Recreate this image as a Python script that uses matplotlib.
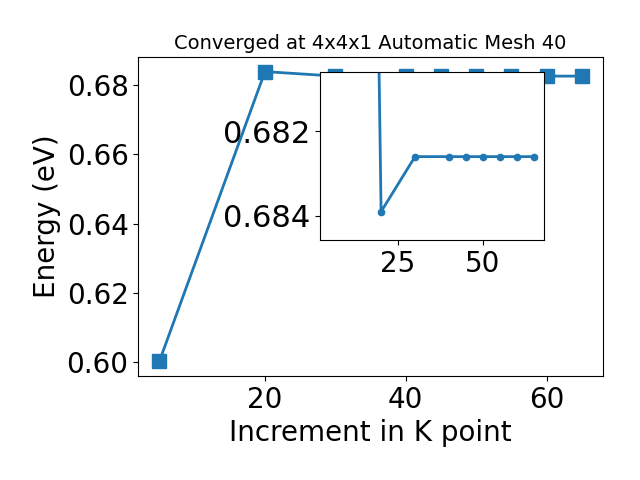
import matplotlib
matplotlib.use("Agg")
import matplotlib.pyplot as plt

kpoints = [5, 20, 30, 40, 45, 50, 55, 60, 65]
energy = [0.6002, 0.6839, 0.6826, 0.6826, 0.6826, 0.6826, 0.6826, 0.6826, 0.6826]

fig = plt.figure(figsize=(6.4, 4.8), dpi=100)
ax = fig.add_axes([0.216, 0.217, 0.726, 0.664])
ax.plot(kpoints, energy, marker='s', markersize=10, linewidth=2, color='#1f77b4')
ax.set_title('Converged at 4x4x1 Automatic Mesh 40', fontsize=14)
ax.set_xlabel('Increment in K point', fontsize=20)
ax.set_ylabel('Energy (eV)', fontsize=20)
ax.tick_params(labelsize=20)
ax.set_yticks([0.60, 0.62, 0.64, 0.66, 0.68])

ins = fig.add_axes([0.5, 0.5, 0.35, 0.35])
ins.plot(kpoints, energy, marker='o', markersize=4.5, linewidth=2, color='#1f77b4')
ins.set_ylim(0.68457, 0.6806)
ins.set_yticks([0.682, 0.684])
ins.set_xticks([25, 50])
ins.tick_params(axis='x', labelsize=20)
ins.tick_params(axis='y', labelsize=22)

fig.savefig('out.png', dpi=100)
